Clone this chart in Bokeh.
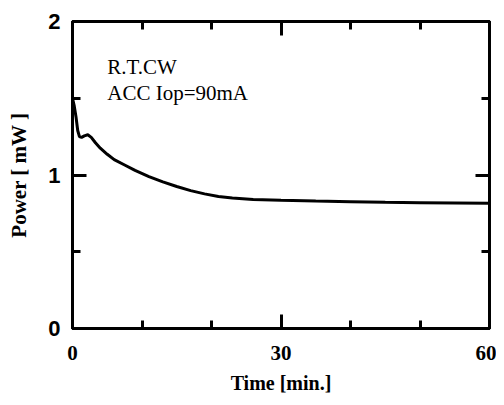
from bokeh.plotting import figure
from bokeh.models import LinearAxis, FixedTicker, Label, Range1d
from bokeh.embed import file_html
from bokeh.resources import INLINE

time_min = [0, 0.25, 0.5, 0.75, 1.0, 1.3, 1.7, 2.2, 2.7, 3.3, 4.0, 5.0, 6.0, 7.5, 9.0,
            11.0, 13.0, 15.0, 17.0, 19.0, 21.0, 23.0, 26.0, 30.0, 35.0, 40.0, 45.0,
            50.0, 55.0, 60.0]
power_mw = [1.50, 1.45, 1.38, 1.29, 1.25, 1.245, 1.255, 1.262, 1.245, 1.21, 1.175, 1.135,
            1.10, 1.065, 1.03, 0.99, 0.955, 0.925, 0.898, 0.877, 0.86, 0.85, 0.84, 0.835,
            0.83, 0.826, 0.822, 0.82, 0.818, 0.816]
x_major = [0, 30, 60]
x_minor = [10, 20, 40, 50]
y_major = [0, 1, 2]
y_minor = [0.5, 1.5]

SERIF = "Liberation Serif"
SANS = "Liberation Sans"

p = figure(width=496, height=397, output_backend="svg", toolbar_location=None,
           x_range=Range1d(0, 60), y_range=Range1d(0, 2),
           min_border_left=72, min_border_right=7, min_border_top=21, min_border_bottom=69,
           x_axis_label="Time [min.]", y_axis_label="Power [ mW ]")
p.grid.visible = False
p.outline_line_color = "black"
p.outline_line_width = 3
p.background_fill_color = "white"
p.border_fill_color = "white"

def style(ax, ticks, minor, show_labels):
    ax.ticker = FixedTicker(ticks=ticks, minor_ticks=minor)
    ax.axis_line_color = "black"
    ax.axis_line_width = 3
    ax.major_tick_in = 14
    ax.major_tick_out = 0
    ax.minor_tick_in = 8
    ax.minor_tick_out = 0
    ax.major_tick_line_width = 3
    ax.minor_tick_line_width = 3
    ax.major_tick_line_color = "black"
    ax.minor_tick_line_color = "black"
    ax.major_label_text_color = "black"
    ax.axis_label_text_color = "black"
    if not show_labels:
        ax.major_label_overrides = {t: "" for t in ticks}
        ax.major_label_text_font_size = "1px"
        ax.major_label_standoff = 0

xb = p.xaxis[0]
style(xb, x_major, x_minor, True)
xb.major_label_text_font = SERIF
xb.major_label_text_font_style = "bold"
xb.major_label_text_font_size = "21px"
xb.major_label_standoff = 17
xb.axis_label_text_font = SERIF
xb.axis_label_text_font_style = "bold"
xb.axis_label_text_font_size = "20px"
xb.axis_label_standoff = 9

yl = p.yaxis[0]
style(yl, y_major, y_minor, True)
yl.major_label_text_font = SANS
yl.major_label_text_font_style = "bold"
yl.major_label_text_font_size = "22px"
yl.major_label_standoff = 12
yl.axis_label_text_font = SERIF
yl.axis_label_text_font_style = "bold"
yl.axis_label_text_font_size = "21px"
yl.axis_label_standoff = 14

xt = LinearAxis()
style(xt, x_major, x_minor, False)
p.add_layout(xt, "above")
yr = LinearAxis()
style(yr, y_major, y_minor, False)
p.add_layout(yr, "right")

p.line(time_min, power_mw, line_color="black", line_width=3)

for txt, yv in [("R.T.CW", 1.78), ("ACC Iop=90mA", 1.615)]:
    p.add_layout(Label(x=5.0, y=yv, text=txt, text_font=SERIF, text_font_size="21px",
                       text_color="black", text_baseline="top", text_align="left"))

open("out.html", "w").write(file_html(p, INLINE))
